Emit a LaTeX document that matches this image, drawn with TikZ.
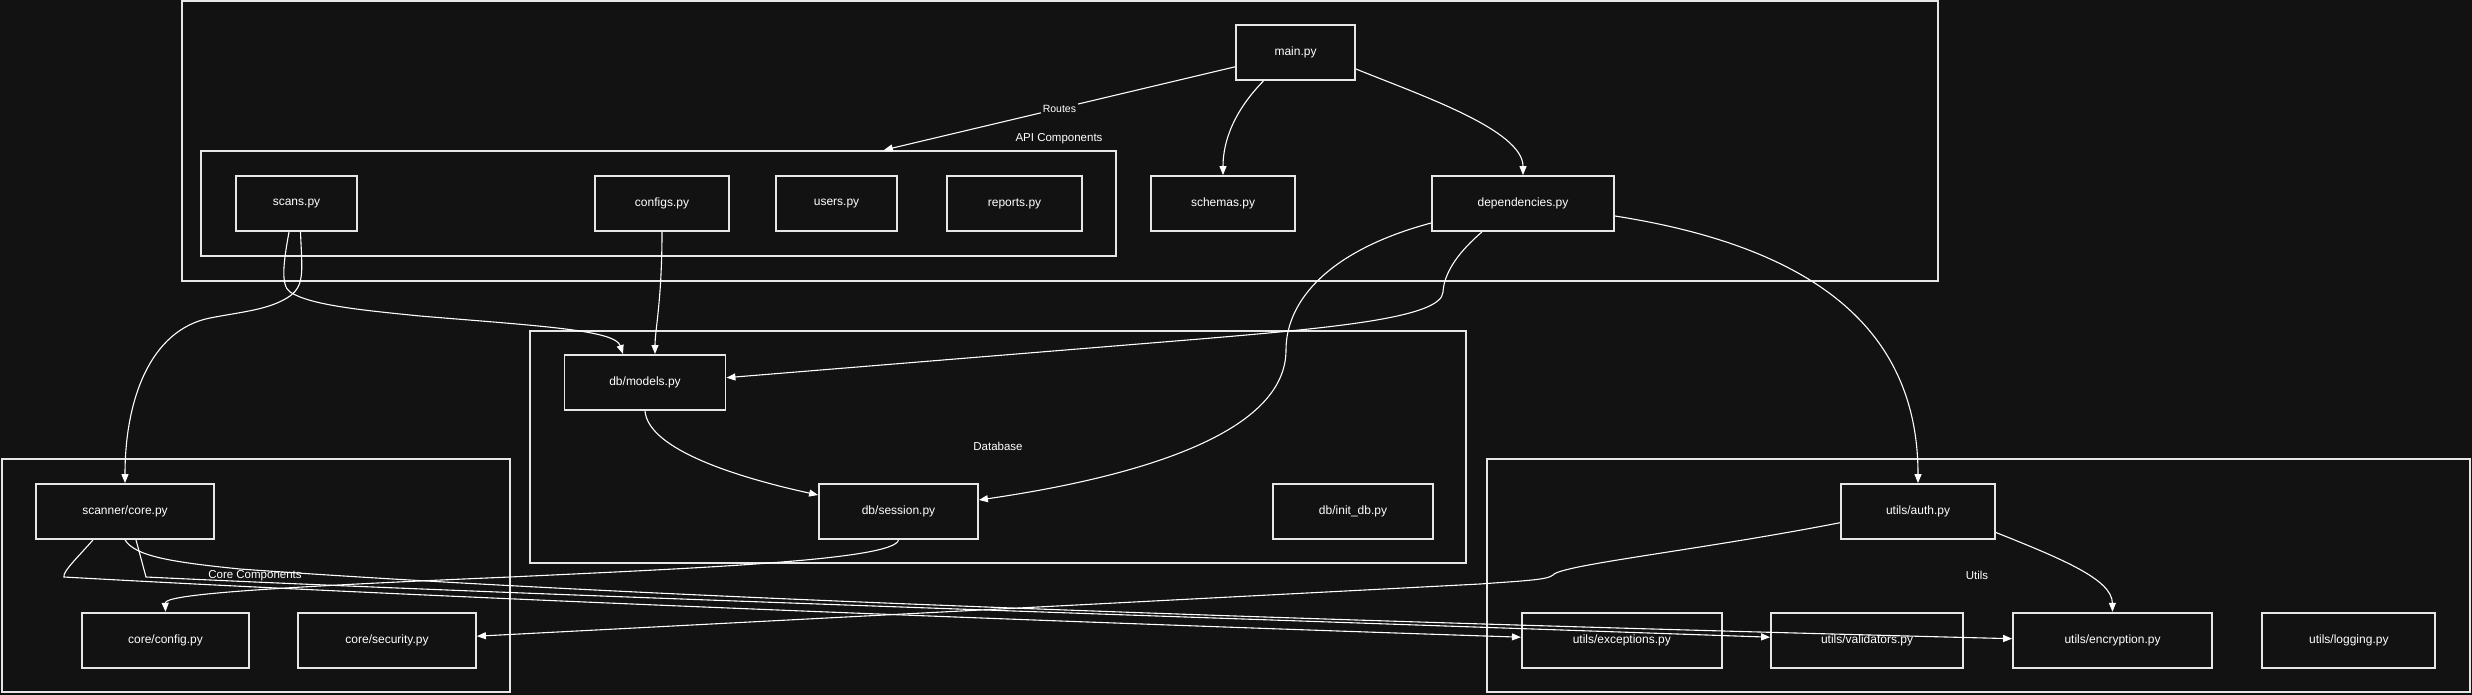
\documentclass[tikz,border=0pt]{standalone}
\usepackage{fontspec}
\setmainfont{Liberation Sans}
\usetikzlibrary{arrows.meta}
\definecolor{bg}{HTML}{121212}
\definecolor{fg}{HTML}{E6E6E6}
\begin{document}
\begin{tikzpicture}[x=1pt,y=-1pt,
  box/.style={draw=fg, line width=1.8pt, fill=bg, text=white, minimum height=55pt, inner sep=0pt, font=\fontsize{12}{14}\selectfont},
  frame/.style={draw=fg, line width=1.8pt, inner sep=0pt},
  clabel/.style={text=white, font=\fontsize{11.5}{14}\selectfont, inner sep=1pt},
  edge/.style={draw=white, line width=1.1pt, -{Triangle[length=9pt,width=7pt]}},
]
\fill[bg] (0,0) rectangle (2472,695);
\useasboundingbox (0,0) rectangle (2472,695);

% clusters
\node[frame, minimum width=1756pt, minimum height=280pt] (top) at (1059.9,141) {};
\node[frame, minimum width=915pt, minimum height=105pt] (api) at (658.5,203.5) {};
\node[frame, minimum width=936pt, minimum height=232pt] (db) at (998,447) {};
\node[frame, minimum width=508pt, minimum height=233pt] (core) at (255.8,575.5) {};
\node[frame, minimum width=983pt, minimum height=233pt] (utils) at (1978.5,575.5) {};

\node[clabel] (apil) at (1059,139) {API Components};
\node[clabel] (dbl) at (998,446.7) {Database};
\node[clabel] (corel) at (255,575.7) {Core Components};
\node[clabel] (utilsl) at (1977,575.7) {Utils};

% nodes
\node[box, minimum width=119pt] (main) at (1295.5,52.5) {main.py};
\node[box, minimum width=121pt] (scans) at (296.5,203.5) {scans.py};
\node[box, minimum width=134pt] (configs) at (662,203.5) {configs.py};
\node[box, minimum width=121pt] (users) at (836.5,203.5) {users.py};
\node[box, minimum width=135pt] (reports) at (1014.5,203.5) {reports.py};
\node[box, minimum width=144pt] (schemas) at (1223,203.5) {schemas.py};
\node[box, minimum width=182pt] (deps) at (1523,203.5) {dependencies.py};
\node[box, minimum width=161pt] (models) at (645,382.4) {db/models.py};
\node[box, minimum width=159pt] (session) at (898.5,511.5) {db/session.py};
\node[box, minimum width=160pt] (initdb) at (1353,511.5) {db/init\_db.py};
\node[box, minimum width=178pt] (scanner) at (125,511.5) {scanner/core.py};
\node[box, minimum width=167pt] (cconfig) at (165.5,640.2) {core/config.py};
\node[box, minimum width=178pt] (csec) at (387,640.2) {core/security.py};
\node[box, minimum width=154pt] (auth) at (1918,511.5) {utils/auth.py};
\node[box, minimum width=200pt] (exc) at (1621.8,640.2) {utils/exceptions.py};
\node[box, minimum width=192pt] (val) at (1867,640.2) {utils/validators.py};
\node[box, minimum width=199pt] (enc) at (2112.5,640.2) {utils/encryption.py};
\node[box, minimum width=173pt] (logm) at (2348.8,640.2) {utils/logging.py};

% edges
\draw[edge] (main) -- node[fill=bg, text=white, font=\fontsize{10.5}{12}\selectfont, inner sep=1.5pt] (routes) {Routes} (api);
\draw[edge] ([xshift=-32pt]main.south) .. controls (1235,110) and (1223,140) .. (schemas.north);
\draw[edge] ([yshift=-16.5pt]main.east) .. controls (1420,95) and (1523,130) .. (deps.north);
\draw[edge] ([xshift=4pt]scans.south) .. controls (302,270) and (305,285) .. (290,296)
   .. controls (270,310) and (240,312) .. (210,318)
   .. controls (150,330) and (125,400) .. (scanner.north);
\draw[edge] ([xshift=-7.5pt]scans.south) .. controls (284,260) and (280,285) .. (290,292)
   .. controls (310,305) and (360,310) .. (420,316)
   .. controls (540,326) and (615,330) .. ([xshift=-22pt]models.north);
\draw[edge] (configs.south) .. controls (662,300) and (655,330) .. ([xshift=10pt]models.north);
\draw[edge] ([xshift=-41pt]deps.south) .. controls (1455,255) and (1444,275) .. (1443,292)
   .. controls (1442,318) and (1330,328) .. (1200,339) -- ([yshift=4.7pt]models.east);
\draw[edge] ([yshift=-19.5pt]deps.west) .. controls (1330,250) and (1286,300) .. (1286,350)
   .. controls (1286,430) and (1150,475) .. ([yshift=11.5pt]session.east);
\draw[edge] ([yshift=-12.5pt]deps.east) .. controls (1800,245) and (1918,320) .. (auth.north);
\draw[edge] (models.south) .. controls (648,450) and (740,478) .. ([yshift=16.5pt]session.west);
\draw[edge] (session.south) .. controls (895,560) and (700,568) .. (510,577)
   .. controls (250,588) and (165,595) .. (cconfig.north);
\draw[edge] ([xshift=-32pt]scanner.south) .. controls (80,555) and (62,572) .. (64,577)
   .. controls (400,596) and (1000,620) .. ([yshift=3pt]exc.west);
\draw[edge] ([xshift=11pt]scanner.south) -- (146,577)
   .. controls (500,594) and (1100,614) .. ([yshift=3pt]val.west);
\draw[edge] (scanner.south) .. controls (135,556) and (170,562) .. (240,569)
   .. controls (600,595) and (1200,618) .. ([yshift=1.5pt]enc.west);
\draw[edge] ([yshift=-11.2pt]auth.west) .. controls (1700,550) and (1560,565) .. (1553,575)
   .. controls (1548,580) and (1520,581) .. (1480,584) -- ([yshift=4pt]csec.east);
\draw[edge] ([yshift=-21pt]auth.east) .. controls (2065,560) and (2112,580) .. (enc.north);
\end{tikzpicture}
\end{document}
